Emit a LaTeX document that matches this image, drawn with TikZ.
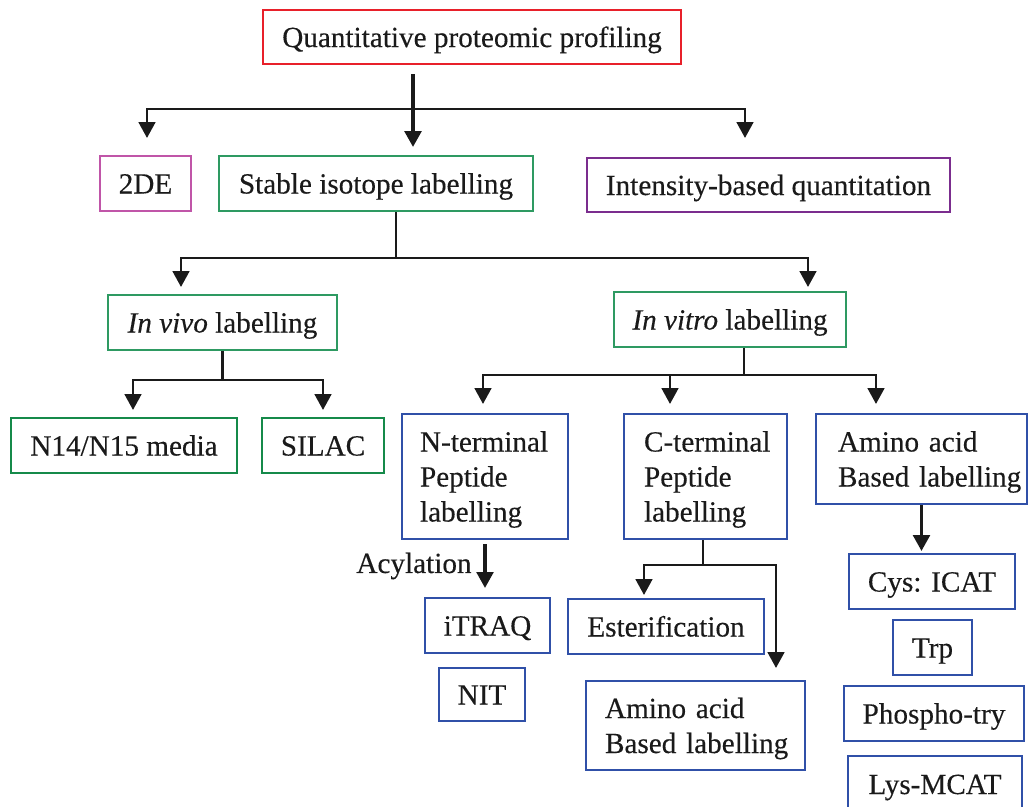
\documentclass[tikz,border=0pt]{standalone}
\usepackage{fontspec}
\setmainfont[FakeBold=0.3]{Liberation Serif}
\usetikzlibrary{arrows.meta}
\definecolor{cred}{HTML}{E8202A}
\definecolor{cmag}{HTML}{C055A8}
\definecolor{cgreen}{HTML}{2E9A62}
\definecolor{cgreenb}{HTML}{158A4A}
\definecolor{cpurp}{HTML}{7B2D8E}
\definecolor{cblue}{HTML}{3050A8}
\definecolor{ctext}{HTML}{1A1A1A}
\newcommand{\boxnode}[7]{%
  \node[box,draw=#6,text height=15pt,text depth=0pt,minimum width={(#4-#2)*0.75pt},minimum height={(#5-#3)*0.75pt}] (#1) at ({(#2+#4)/2},{(#3+#5)/2}) {#7};}
\newcommand{\mlnode}[8]{%
  \node[box,draw=cblue,align=left,text height=15pt,text depth={#7*0.75pt},text width={(#4-#2-2*#6)*0.75pt},inner xsep={#6*0.75pt},minimum width={(#4-#2)*0.75pt},minimum height={(#5-#3)*0.75pt}] (#1) at ({(#2+#4)/2},{(#3+#5)/2}) {#8};}
\tikzset{
  box/.style={rectangle, line width=1.5pt, inner sep=0pt, text=ctext, font=\fontsize{21.9}{26.25}\selectfont},
  txt/.style={inner sep=0pt, text=ctext, font=\fontsize{21.9}{26.25}\selectfont},
  ln/.style={line width=1.8pt, draw=ctext},
  arr/.style={line width=2.1pt, draw=ctext, -{Triangle[length=12pt,width=12.5pt]}},
}
\begin{document}
\begin{tikzpicture}[x=0.75pt,y=-0.75pt]
\useasboundingbox (0,0) rectangle (1029,807);
\clip (0,0) rectangle (1029,807);
% nodes
\boxnode{top}{263}{10}{681}{64}{cred}{Quantitative proteomic profiling}
\boxnode{tde}{100}{156}{191}{211}{cmag}{2DE}
\boxnode{sil}{219}{156}{533}{211}{cgreen}{Stable isotope labelling}
\boxnode{ibq}{587}{158}{950}{212}{cpurp}{Intensity-based quantitation}
\boxnode{viv}{108}{295}{337}{350}{cgreen}{\textit{In vivo} labelling}
\boxnode{vit}{614}{292}{846}{347}{cgreen}{\textit{In vitro} labelling}
\boxnode{nmed}{11}{418}{237}{473}{cgreenb}{N14/N15 media}
\boxnode{silac}{262}{418}{384}{473}{cgreenb}{SILAC}
\mlnode{nterm}{402}{414}{568}{539}{18}{70}{\mbox{N-terminal}\\\mbox{Peptide}\\\mbox{labelling}}
\mlnode{cterm}{624}{414}{787}{539}{20}{70}{\mbox{C-terminal}\\\mbox{Peptide}\\\mbox{labelling}}
\mlnode{aatop}{816}{414}{1027}{504}{22}{35}{\mbox{Amino acid}\\\mbox{Based labelling}}
\node[txt] (acyl) at (414,566) {Acylation};
\boxnode{itraq}{425}{598}{550}{653}{cblue}{iTRAQ}
\boxnode{nit}{439}{668}{525}{721}{cblue}{NIT}
\boxnode{est}{568}{599}{764}{654}{cblue}{Esterification}
\mlnode{aabot}{586}{681}{805}{770}{19}{35}{\mbox{Amino acid}\\\mbox{Based labelling}}
\boxnode{icat}{849}{554}{1015}{609}{cblue}{Cys: ICAT}
\boxnode{trp}{893}{620}{972}{675}{cblue}{Trp}
\boxnode{phos}{844}{686}{1024}{741}{cblue}{Phospho-try}
\boxnode{lys}{848}{756}{1022}{812}{cblue}{Lys-MCAT}
% junction coordinates
\coordinate (h1) at (413,109);
\coordinate (h1l) at (147,138);
\coordinate (h1r) at (745,138);
\coordinate (s1) at (396,258);
\coordinate (s1l) at (181,287);
\coordinate (s1r) at (808,287);
\coordinate (v1) at (222.5,380);
\coordinate (v1l) at (133,410);
\coordinate (v1r) at (323,410);
\coordinate (w1) at (744,375);
\coordinate (w1l) at (483,404);
\coordinate (w1m) at (670,404);
\coordinate (w1r) at (876,404);
\coordinate (c1) at (703,565);
\coordinate (c1l) at (644,595);
\coordinate (c1r) at (776,668);
% connectors
\draw[arr, line width=2.8pt, shorten <=6.75pt, shorten >=6pt] (top.south -| h1) -- (sil.north -| h1);
\draw[arr] (h1) -| (h1l);
\draw[arr] (h1) -| (h1r);
\draw[ln] (sil.south -| s1) -- (s1);
\draw[arr] (s1) -| (s1l);
\draw[arr] (s1) -| (s1r);
\draw[ln] (viv.south) -- (v1);
\draw[arr] (v1) -| (v1l);
\draw[arr] (v1) -| (v1r);
\draw[ln] (vit.south -| w1) -- (w1);
\draw[arr] (w1) -| (w1l);
\draw[arr] (w1) -| (w1m);
\draw[arr] (w1) -| (w1r);
\draw[arr, line width=2.6pt, shorten <=3pt, shorten >=6.75pt] (nterm.south) -- (nterm.south |- itraq.north);
\draw[ln] (cterm.south -| c1) -- (c1);
\draw[arr] (c1) -| (c1l);
\draw[arr] (c1) -| (c1r);
\draw[arr, line width=2.6pt, shorten >=1.5pt] (aatop.south) -- (aatop.south |- icat.north);
\end{tikzpicture}
\end{document}
